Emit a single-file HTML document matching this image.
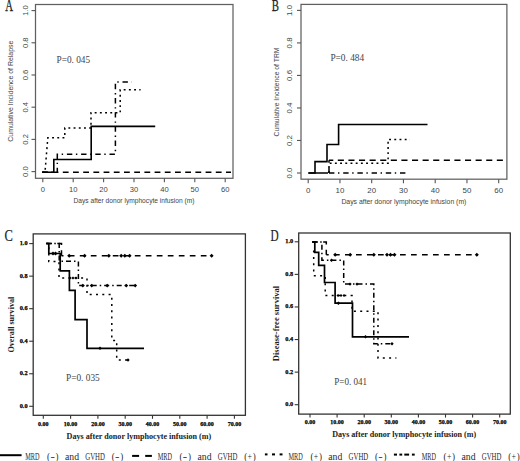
<!DOCTYPE html>
<html><head><meta charset="utf-8"><style>
html,body{margin:0;padding:0;background:#fff;}
svg{display:block;}
</style></head><body>
<svg width="520" height="461" viewBox="0 0 520 461">
<rect width="520" height="461" fill="#fff"/>
<rect x="35.5" y="4.5" width="197.5" height="173.8" fill="none" stroke="#606060" stroke-width="1.25"/>
<line x1="31.5" y1="171.6" x2="35.5" y2="171.6" stroke="#555" stroke-width="1.1"/>
<text x="25.5" y="171.6" font-size="7.6" font-family='"Liberation Sans", sans-serif' text-anchor="middle" font-weight="normal" fill="#444" transform="rotate(-90 25.5 171.6)" dominant-baseline="central">0.0</text>
<line x1="31.5" y1="139.39" x2="35.5" y2="139.39" stroke="#555" stroke-width="1.1"/>
<text x="25.5" y="139.39" font-size="7.6" font-family='"Liberation Sans", sans-serif' text-anchor="middle" font-weight="normal" fill="#444" transform="rotate(-90 25.5 139.39)" dominant-baseline="central">0.2</text>
<line x1="31.5" y1="107.19" x2="35.5" y2="107.19" stroke="#555" stroke-width="1.1"/>
<text x="25.5" y="107.19" font-size="7.6" font-family='"Liberation Sans", sans-serif' text-anchor="middle" font-weight="normal" fill="#444" transform="rotate(-90 25.5 107.19)" dominant-baseline="central">0.4</text>
<line x1="31.5" y1="74.99" x2="35.5" y2="74.99" stroke="#555" stroke-width="1.1"/>
<text x="25.5" y="74.99" font-size="7.6" font-family='"Liberation Sans", sans-serif' text-anchor="middle" font-weight="normal" fill="#444" transform="rotate(-90 25.5 74.99)" dominant-baseline="central">0.6</text>
<line x1="31.5" y1="42.79" x2="35.5" y2="42.79" stroke="#555" stroke-width="1.1"/>
<text x="25.5" y="42.79" font-size="7.6" font-family='"Liberation Sans", sans-serif' text-anchor="middle" font-weight="normal" fill="#444" transform="rotate(-90 25.5 42.79)" dominant-baseline="central">0.8</text>
<line x1="31.5" y1="10.59" x2="35.5" y2="10.59" stroke="#555" stroke-width="1.1"/>
<text x="25.5" y="10.59" font-size="7.6" font-family='"Liberation Sans", sans-serif' text-anchor="middle" font-weight="normal" fill="#444" transform="rotate(-90 25.5 10.59)" dominant-baseline="central">1.0</text>
<line x1="42.8" y1="178.3" x2="42.8" y2="182.3" stroke="#555" stroke-width="1.1"/>
<text x="42.8" y="189.5" font-size="7.6" font-family='"Liberation Sans", sans-serif' text-anchor="middle" font-weight="normal" fill="#444" dominant-baseline="central">0</text>
<line x1="73.19" y1="178.3" x2="73.19" y2="182.3" stroke="#555" stroke-width="1.1"/>
<text x="73.19" y="189.5" font-size="7.6" font-family='"Liberation Sans", sans-serif' text-anchor="middle" font-weight="normal" fill="#444" dominant-baseline="central">10</text>
<line x1="103.6" y1="178.3" x2="103.6" y2="182.3" stroke="#555" stroke-width="1.1"/>
<text x="103.6" y="189.5" font-size="7.6" font-family='"Liberation Sans", sans-serif' text-anchor="middle" font-weight="normal" fill="#444" dominant-baseline="central">20</text>
<line x1="134.0" y1="178.3" x2="134.0" y2="182.3" stroke="#555" stroke-width="1.1"/>
<text x="134.0" y="189.5" font-size="7.6" font-family='"Liberation Sans", sans-serif' text-anchor="middle" font-weight="normal" fill="#444" dominant-baseline="central">30</text>
<line x1="164.39" y1="178.3" x2="164.39" y2="182.3" stroke="#555" stroke-width="1.1"/>
<text x="164.39" y="189.5" font-size="7.6" font-family='"Liberation Sans", sans-serif' text-anchor="middle" font-weight="normal" fill="#444" dominant-baseline="central">40</text>
<line x1="194.8" y1="178.3" x2="194.8" y2="182.3" stroke="#555" stroke-width="1.1"/>
<text x="194.8" y="189.5" font-size="7.6" font-family='"Liberation Sans", sans-serif' text-anchor="middle" font-weight="normal" fill="#444" dominant-baseline="central">50</text>
<line x1="225.2" y1="178.3" x2="225.2" y2="182.3" stroke="#555" stroke-width="1.1"/>
<text x="225.2" y="189.5" font-size="7.6" font-family='"Liberation Sans", sans-serif' text-anchor="middle" font-weight="normal" fill="#444" dominant-baseline="central">60</text>
<text x="134.0" y="200.1" font-size="7.4" font-family='"Liberation Sans", sans-serif' text-anchor="middle" font-weight="normal" fill="#444" dominant-baseline="central" textLength="121" lengthAdjust="spacingAndGlyphs">Days after donor lymphocyte infusion (m)</text>
<text x="10.6" y="91.2" font-size="7.4" font-family='"Liberation Sans", sans-serif' text-anchor="middle" font-weight="normal" fill="#444" transform="rotate(-90 10.6 91.2)" dominant-baseline="central" textLength="101" lengthAdjust="spacingAndGlyphs">Cumulative Incidence of Relapse</text>
<text x="56.6" y="59.5" font-size="9.6" font-family='"Liberation Serif", serif' text-anchor="start" font-weight="normal" fill="#444" dominant-baseline="central" textLength="33.5" lengthAdjust="spacingAndGlyphs">P=0. 045</text>
<text x="5.2" y="11.1" font-size="16.8" font-family='"Liberation Serif", serif' fill="#222" stroke="#222" stroke-width="0.3" transform="translate(5.2 11.1) scale(0.64 1) translate(-5.2 -11.1)">A</text>
<path d="M42.2,172.2 H231" fill="none" stroke="#000" stroke-width="1.5" stroke-dasharray="5.8 4.4" stroke-dashoffset="10.0"/>
<path d="M42.2,172.2 H57.3 V154.3 H115.4 V82.1 H131.7" fill="none" stroke="#000" stroke-width="1.5" stroke-dasharray="5.4 3.6 1.4 3.8" stroke-dashoffset="0"/>
<path d="M42.2,172.2 H45 L47.8,137.8 H64.8 V128.1 H91 V112.8 H120.2 V89.8 H140.6" fill="none" stroke="#000" stroke-width="1.5" stroke-dasharray="1.9 3.3" stroke-dashoffset="0"/>
<path d="M42.2,172.2 H53.8 V159.5 H91.2 V126.4 H155.2" fill="none" stroke="#000" stroke-width="1.6"/>
<rect x="301" y="4.4" width="205.89" height="174.79" fill="none" stroke="#606060" stroke-width="1.25"/>
<line x1="297" y1="173.0" x2="301" y2="173.0" stroke="#555" stroke-width="1.1"/>
<text x="289.8" y="173.0" font-size="7.9" font-family='"Liberation Sans", sans-serif' text-anchor="middle" font-weight="normal" fill="#444" transform="rotate(-90 289.8 173.0)" dominant-baseline="central">0.0</text>
<line x1="297" y1="140.48" x2="301" y2="140.48" stroke="#555" stroke-width="1.1"/>
<text x="289.8" y="140.48" font-size="7.9" font-family='"Liberation Sans", sans-serif' text-anchor="middle" font-weight="normal" fill="#444" transform="rotate(-90 289.8 140.48)" dominant-baseline="central">0.2</text>
<line x1="297" y1="107.96" x2="301" y2="107.96" stroke="#555" stroke-width="1.1"/>
<text x="289.8" y="107.96" font-size="7.9" font-family='"Liberation Sans", sans-serif' text-anchor="middle" font-weight="normal" fill="#444" transform="rotate(-90 289.8 107.96)" dominant-baseline="central">0.4</text>
<line x1="297" y1="75.43" x2="301" y2="75.43" stroke="#555" stroke-width="1.1"/>
<text x="289.8" y="75.43" font-size="7.9" font-family='"Liberation Sans", sans-serif' text-anchor="middle" font-weight="normal" fill="#444" transform="rotate(-90 289.8 75.43)" dominant-baseline="central">0.6</text>
<line x1="297" y1="42.91" x2="301" y2="42.91" stroke="#555" stroke-width="1.1"/>
<text x="289.8" y="42.91" font-size="7.9" font-family='"Liberation Sans", sans-serif' text-anchor="middle" font-weight="normal" fill="#444" transform="rotate(-90 289.8 42.91)" dominant-baseline="central">0.8</text>
<line x1="297" y1="10.40" x2="301" y2="10.40" stroke="#555" stroke-width="1.1"/>
<text x="289.8" y="10.40" font-size="7.9" font-family='"Liberation Sans", sans-serif' text-anchor="middle" font-weight="normal" fill="#444" transform="rotate(-90 289.8 10.40)" dominant-baseline="central">1.0</text>
<line x1="308.2" y1="179.2" x2="308.2" y2="183.2" stroke="#555" stroke-width="1.1"/>
<text x="308.2" y="190.7" font-size="7.9" font-family='"Liberation Sans", sans-serif' text-anchor="middle" font-weight="normal" fill="#444" dominant-baseline="central">0</text>
<line x1="339.95" y1="179.2" x2="339.95" y2="183.2" stroke="#555" stroke-width="1.1"/>
<text x="339.95" y="190.7" font-size="7.9" font-family='"Liberation Sans", sans-serif' text-anchor="middle" font-weight="normal" fill="#444" dominant-baseline="central">10</text>
<line x1="371.7" y1="179.2" x2="371.7" y2="183.2" stroke="#555" stroke-width="1.1"/>
<text x="371.7" y="190.7" font-size="7.9" font-family='"Liberation Sans", sans-serif' text-anchor="middle" font-weight="normal" fill="#444" dominant-baseline="central">20</text>
<line x1="403.45" y1="179.2" x2="403.45" y2="183.2" stroke="#555" stroke-width="1.1"/>
<text x="403.45" y="190.7" font-size="7.9" font-family='"Liberation Sans", sans-serif' text-anchor="middle" font-weight="normal" fill="#444" dominant-baseline="central">30</text>
<line x1="435.2" y1="179.2" x2="435.2" y2="183.2" stroke="#555" stroke-width="1.1"/>
<text x="435.2" y="190.7" font-size="7.9" font-family='"Liberation Sans", sans-serif' text-anchor="middle" font-weight="normal" fill="#444" dominant-baseline="central">40</text>
<line x1="466.95" y1="179.2" x2="466.95" y2="183.2" stroke="#555" stroke-width="1.1"/>
<text x="466.95" y="190.7" font-size="7.9" font-family='"Liberation Sans", sans-serif' text-anchor="middle" font-weight="normal" fill="#444" dominant-baseline="central">50</text>
<line x1="498.7" y1="179.2" x2="498.7" y2="183.2" stroke="#555" stroke-width="1.1"/>
<text x="498.7" y="190.7" font-size="7.9" font-family='"Liberation Sans", sans-serif' text-anchor="middle" font-weight="normal" fill="#444" dominant-baseline="central">60</text>
<text x="403.9" y="201.5" font-size="7.4" font-family='"Liberation Sans", sans-serif' text-anchor="middle" font-weight="normal" fill="#444" dominant-baseline="central" textLength="125" lengthAdjust="spacingAndGlyphs">Days after donor lymphocyte infusion (m)</text>
<text x="276.3" y="92" font-size="7.4" font-family='"Liberation Sans", sans-serif' text-anchor="middle" font-weight="normal" fill="#444" transform="rotate(-90 276.3 92)" dominant-baseline="central" textLength="89" lengthAdjust="spacingAndGlyphs">Cumulative Incidence of TRM</text>
<text x="330.4" y="57.0" font-size="9.6" font-family='"Liberation Serif", serif' text-anchor="start" font-weight="normal" fill="#444" dominant-baseline="central" textLength="33.8" lengthAdjust="spacingAndGlyphs">P=0. 484</text>
<text x="271.8" y="11.1" font-size="16.8" font-family='"Liberation Serif", serif' fill="#222" stroke="#222" stroke-width="0.3" transform="translate(271.8 11.1) scale(0.64 1) translate(-271.8 -11.1)">B</text>
<path d="M329,173 V160.3" fill="none" stroke="#000" stroke-width="1.5" stroke-dasharray="5.8 4.4" stroke-dashoffset="0"/>
<path d="M329,160.3 H503" fill="none" stroke="#000" stroke-width="1.5" stroke-dasharray="6.1 4.5" stroke-dashoffset="1.8"/>
<path d="M329,173 H406" fill="none" stroke="#000" stroke-width="1.5" stroke-dasharray="5.4 3.6 1.4 3.8" stroke-dashoffset="0"/>
<path d="M308.4,173 H328" fill="none" stroke="#000" stroke-width="1.5"/>
<path d="M329,173 V163.3 H388.1 V139.5 H410" fill="none" stroke="#000" stroke-width="1.5" stroke-dasharray="1.9 3.3" stroke-dashoffset="0"/>
<path d="M308.4,173 H315 V161.6 H327 V144.5 H338.6 V124.5 H427.5" fill="none" stroke="#000" stroke-width="1.6"/>
<rect x="33.2" y="233.9" width="212.2" height="181.4" fill="none" stroke="#333" stroke-width="1.3"/>
<line x1="29.20" y1="406.3" x2="33.2" y2="406.3" stroke="#333" stroke-width="1.1"/>
<text x="23.6" y="405.3" font-size="6.3" font-family='"Liberation Serif", serif' text-anchor="middle" font-weight="bold" fill="#000" dominant-baseline="central" stroke="#000" stroke-width="0.25">0.0</text>
<line x1="29.20" y1="373.76" x2="33.2" y2="373.76" stroke="#333" stroke-width="1.1"/>
<text x="23.6" y="372.76" font-size="6.3" font-family='"Liberation Serif", serif' text-anchor="middle" font-weight="bold" fill="#000" dominant-baseline="central" stroke="#000" stroke-width="0.25">0.2</text>
<line x1="29.20" y1="341.22" x2="33.2" y2="341.22" stroke="#333" stroke-width="1.1"/>
<text x="23.6" y="340.22" font-size="6.3" font-family='"Liberation Serif", serif' text-anchor="middle" font-weight="bold" fill="#000" dominant-baseline="central" stroke="#000" stroke-width="0.25">0.4</text>
<line x1="29.20" y1="308.68" x2="33.2" y2="308.68" stroke="#333" stroke-width="1.1"/>
<text x="23.6" y="307.68" font-size="6.3" font-family='"Liberation Serif", serif' text-anchor="middle" font-weight="bold" fill="#000" dominant-baseline="central" stroke="#000" stroke-width="0.25">0.6</text>
<line x1="29.20" y1="276.14" x2="33.2" y2="276.14" stroke="#333" stroke-width="1.1"/>
<text x="23.6" y="275.14" font-size="6.3" font-family='"Liberation Serif", serif' text-anchor="middle" font-weight="bold" fill="#000" dominant-baseline="central" stroke="#000" stroke-width="0.25">0.8</text>
<line x1="29.20" y1="243.60" x2="33.2" y2="243.60" stroke="#333" stroke-width="1.1"/>
<text x="23.6" y="242.60" font-size="6.3" font-family='"Liberation Serif", serif' text-anchor="middle" font-weight="bold" fill="#000" dominant-baseline="central" stroke="#000" stroke-width="0.25">1.0</text>
<line x1="43.3" y1="415.3" x2="43.3" y2="418.8" stroke="#333" stroke-width="1.1"/>
<text x="43.3" y="424" font-size="6.0" font-family='"Liberation Serif", serif' text-anchor="middle" font-weight="bold" fill="#000" dominant-baseline="central" stroke="#000" stroke-width="0.25">0.00</text>
<line x1="70.6" y1="415.3" x2="70.6" y2="418.8" stroke="#333" stroke-width="1.1"/>
<text x="70.6" y="424" font-size="6.0" font-family='"Liberation Serif", serif' text-anchor="middle" font-weight="bold" fill="#000" dominant-baseline="central" stroke="#000" stroke-width="0.25">10.00</text>
<line x1="97.9" y1="415.3" x2="97.9" y2="418.8" stroke="#333" stroke-width="1.1"/>
<text x="97.9" y="424" font-size="6.0" font-family='"Liberation Serif", serif' text-anchor="middle" font-weight="bold" fill="#000" dominant-baseline="central" stroke="#000" stroke-width="0.25">20.00</text>
<line x1="125.2" y1="415.3" x2="125.2" y2="418.8" stroke="#333" stroke-width="1.1"/>
<text x="125.2" y="424" font-size="6.0" font-family='"Liberation Serif", serif' text-anchor="middle" font-weight="bold" fill="#000" dominant-baseline="central" stroke="#000" stroke-width="0.25">30.00</text>
<line x1="152.5" y1="415.3" x2="152.5" y2="418.8" stroke="#333" stroke-width="1.1"/>
<text x="152.5" y="424" font-size="6.0" font-family='"Liberation Serif", serif' text-anchor="middle" font-weight="bold" fill="#000" dominant-baseline="central" stroke="#000" stroke-width="0.25">40.00</text>
<line x1="179.8" y1="415.3" x2="179.8" y2="418.8" stroke="#333" stroke-width="1.1"/>
<text x="179.8" y="424" font-size="6.0" font-family='"Liberation Serif", serif' text-anchor="middle" font-weight="bold" fill="#000" dominant-baseline="central" stroke="#000" stroke-width="0.25">50.00</text>
<line x1="207.10" y1="415.3" x2="207.10" y2="418.8" stroke="#333" stroke-width="1.1"/>
<text x="207.10" y="424" font-size="6.0" font-family='"Liberation Serif", serif' text-anchor="middle" font-weight="bold" fill="#000" dominant-baseline="central" stroke="#000" stroke-width="0.25">60.00</text>
<line x1="234.39" y1="415.3" x2="234.39" y2="418.8" stroke="#333" stroke-width="1.1"/>
<text x="234.39" y="424" font-size="6.0" font-family='"Liberation Serif", serif' text-anchor="middle" font-weight="bold" fill="#000" dominant-baseline="central" stroke="#000" stroke-width="0.25">70.00</text>
<text x="138.9" y="436" font-size="8.2" font-family='"Liberation Serif", serif' text-anchor="middle" font-weight="bold" fill="#222" dominant-baseline="central" textLength="144.6" lengthAdjust="spacingAndGlyphs">Days after donor lymphocyte infusion (m)</text>
<text x="11.4" y="324.7" font-size="8.3" font-family='"Liberation Serif", serif' text-anchor="middle" font-weight="bold" fill="#222" transform="rotate(-90 11.4 324.7)" dominant-baseline="central" textLength="55.8" lengthAdjust="spacingAndGlyphs">Overall survival</text>
<text x="66.0" y="377.6" font-size="9.6" font-family='"Liberation Serif", serif' text-anchor="start" font-weight="normal" fill="#444" dominant-baseline="central" textLength="33.7" lengthAdjust="spacingAndGlyphs">P=0. 035</text>
<text x="4.6" y="241.5" font-size="17.4" font-family='"Liberation Serif", serif' fill="#222" stroke="#222" stroke-width="0.2" transform="translate(4.6 241.5) scale(0.72 1) translate(-4.6 -241.5)">C</text>
<path d="M46.3,243.5 H61.5 V255.8" fill="none" stroke="#000" stroke-width="1.5" stroke-dasharray="5.7 5.3" stroke-dashoffset="0"/>
<path d="M61.5,255.8 H212.3" fill="none" stroke="#000" stroke-width="1.5" stroke-dasharray="5.7 5.3" stroke-dashoffset="3.7"/>
<path d="M46.3,243.5 H59.2 V261.3 H78.4 V285.6 H136.2" fill="none" stroke="#000" stroke-width="1.5" stroke-dasharray="5.0 3.0 1.5 3.0" stroke-dashoffset="0"/>
<path d="M46.3,243.5 H48.8 V261.5 H59 V278 H87 V294.6 H111.8 V340.5 H116.7 V360 H131.3" fill="none" stroke="#000" stroke-width="1.5" stroke-dasharray="2.0 4.3" stroke-dashoffset="0"/>
<path d="M46.3,243.5 H48.8 V253.5 H60.2 V270.8 H69.4 V290.4 H75.1 V319.6 H87 V348.3 H144" fill="none" stroke="#000" stroke-width="1.7"/>
<path d="M67.2,255.8 L69.2,253.8 L71.2,255.8 L69.2,257.8 Z" fill="#000"/>
<path d="M82.6,255.8 L84.6,253.8 L86.6,255.8 L84.6,257.8 Z" fill="#000"/>
<path d="M106.8,255.8 L108.8,253.8 L110.8,255.8 L108.8,257.8 Z" fill="#000"/>
<path d="M119.2,255.8 L121.2,253.8 L123.2,255.8 L121.2,257.8 Z" fill="#000"/>
<path d="M122.8,255.8 L124.8,253.8 L126.8,255.8 L124.8,257.8 Z" fill="#000"/>
<path d="M127.6,255.8 L129.6,253.8 L131.6,255.8 L129.6,257.8 Z" fill="#000"/>
<path d="M209.6,255.8 L211.6,253.8 L213.6,255.8 L211.6,257.8 Z" fill="#000"/>
<path d="M80.89,285.6 L82.8,283.70 L84.7,285.6 L82.8,287.5 Z" fill="#000"/>
<path d="M89.8,285.6 L91.7,283.70 L93.60,285.6 L91.7,287.5 Z" fill="#000"/>
<path d="M105.3,285.6 L107.2,283.70 L109.10,285.6 L107.2,287.5 Z" fill="#000"/>
<path d="M124.39,285.6 L126.3,283.70 L128.2,285.6 L126.3,287.5 Z" fill="#000"/>
<path d="M133.29,285.6 L135.2,283.70 L137.1,285.6 L135.2,287.5 Z" fill="#000"/>
<path d="M98.3,348.3 L100,346.6 L101.7,348.3 L100,350.0 Z" fill="#000"/>
<path d="M51.1,253.5 L53,251.6 L54.9,253.5 L53,255.4 Z" fill="#000"/>
<path d="M53.6,253.5 L55.5,251.6 L57.4,253.5 L55.5,255.4 Z" fill="#000"/>
<path d="M68.4,278 L70,276.4 L71.6,278 L70,279.6 Z" fill="#000"/>
<path d="M71.4,278 L73,276.4 L74.6,278 L73,279.6 Z" fill="#000"/>
<path d="M74.4,278 L76,276.4 L77.6,278 L76,279.6 Z" fill="#000"/>
<path d="M126.3,360 L128,358.3 L129.7,360 L128,361.7 Z" fill="#000"/>
<rect x="298.7" y="233" width="211.60" height="181.10" fill="none" stroke="#333" stroke-width="1.3"/>
<line x1="294.7" y1="404.7" x2="298.7" y2="404.7" stroke="#333" stroke-width="1.1"/>
<text x="289.2" y="403.7" font-size="6.3" font-family='"Liberation Serif", serif' text-anchor="middle" font-weight="bold" fill="#000" dominant-baseline="central" stroke="#000" stroke-width="0.25">0.0</text>
<line x1="294.7" y1="372.12" x2="298.7" y2="372.12" stroke="#333" stroke-width="1.1"/>
<text x="289.2" y="371.12" font-size="6.3" font-family='"Liberation Serif", serif' text-anchor="middle" font-weight="bold" fill="#000" dominant-baseline="central" stroke="#000" stroke-width="0.25">0.2</text>
<line x1="294.7" y1="339.53" x2="298.7" y2="339.53" stroke="#333" stroke-width="1.1"/>
<text x="289.2" y="338.53" font-size="6.3" font-family='"Liberation Serif", serif' text-anchor="middle" font-weight="bold" fill="#000" dominant-baseline="central" stroke="#000" stroke-width="0.25">0.4</text>
<line x1="294.7" y1="306.96" x2="298.7" y2="306.96" stroke="#333" stroke-width="1.1"/>
<text x="289.2" y="305.96" font-size="6.3" font-family='"Liberation Serif", serif' text-anchor="middle" font-weight="bold" fill="#000" dominant-baseline="central" stroke="#000" stroke-width="0.25">0.6</text>
<line x1="294.7" y1="274.38" x2="298.7" y2="274.38" stroke="#333" stroke-width="1.1"/>
<text x="289.2" y="273.38" font-size="6.3" font-family='"Liberation Serif", serif' text-anchor="middle" font-weight="bold" fill="#000" dominant-baseline="central" stroke="#000" stroke-width="0.25">0.8</text>
<line x1="294.7" y1="241.79" x2="298.7" y2="241.79" stroke="#333" stroke-width="1.1"/>
<text x="289.2" y="240.79" font-size="6.3" font-family='"Liberation Serif", serif' text-anchor="middle" font-weight="bold" fill="#000" dominant-baseline="central" stroke="#000" stroke-width="0.25">1.0</text>
<line x1="310.0" y1="414.1" x2="310.0" y2="417.6" stroke="#333" stroke-width="1.1"/>
<text x="310.0" y="422" font-size="6.0" font-family='"Liberation Serif", serif' text-anchor="middle" font-weight="bold" fill="#000" dominant-baseline="central" stroke="#000" stroke-width="0.25">0.00</text>
<line x1="337.1" y1="414.1" x2="337.1" y2="417.6" stroke="#333" stroke-width="1.1"/>
<text x="337.1" y="422" font-size="6.0" font-family='"Liberation Serif", serif' text-anchor="middle" font-weight="bold" fill="#000" dominant-baseline="central" stroke="#000" stroke-width="0.25">10.00</text>
<line x1="364.2" y1="414.1" x2="364.2" y2="417.6" stroke="#333" stroke-width="1.1"/>
<text x="364.2" y="422" font-size="6.0" font-family='"Liberation Serif", serif' text-anchor="middle" font-weight="bold" fill="#000" dominant-baseline="central" stroke="#000" stroke-width="0.25">20.00</text>
<line x1="391.3" y1="414.1" x2="391.3" y2="417.6" stroke="#333" stroke-width="1.1"/>
<text x="391.3" y="422" font-size="6.0" font-family='"Liberation Serif", serif' text-anchor="middle" font-weight="bold" fill="#000" dominant-baseline="central" stroke="#000" stroke-width="0.25">30.00</text>
<line x1="418.4" y1="414.1" x2="418.4" y2="417.6" stroke="#333" stroke-width="1.1"/>
<text x="418.4" y="422" font-size="6.0" font-family='"Liberation Serif", serif' text-anchor="middle" font-weight="bold" fill="#000" dominant-baseline="central" stroke="#000" stroke-width="0.25">40.00</text>
<line x1="445.5" y1="414.1" x2="445.5" y2="417.6" stroke="#333" stroke-width="1.1"/>
<text x="445.5" y="422" font-size="6.0" font-family='"Liberation Serif", serif' text-anchor="middle" font-weight="bold" fill="#000" dominant-baseline="central" stroke="#000" stroke-width="0.25">50.00</text>
<line x1="472.6" y1="414.1" x2="472.6" y2="417.6" stroke="#333" stroke-width="1.1"/>
<text x="472.6" y="422" font-size="6.0" font-family='"Liberation Serif", serif' text-anchor="middle" font-weight="bold" fill="#000" dominant-baseline="central" stroke="#000" stroke-width="0.25">60.00</text>
<line x1="499.7" y1="414.1" x2="499.7" y2="417.6" stroke="#333" stroke-width="1.1"/>
<text x="499.7" y="422" font-size="6.0" font-family='"Liberation Serif", serif' text-anchor="middle" font-weight="bold" fill="#000" dominant-baseline="central" stroke="#000" stroke-width="0.25">70.00</text>
<text x="404.2" y="434.6" font-size="8.2" font-family='"Liberation Serif", serif' text-anchor="middle" font-weight="bold" fill="#222" dominant-baseline="central" textLength="143.9" lengthAdjust="spacingAndGlyphs">Days after donor lymphocyte infusion (m)</text>
<text x="276.2" y="323.5" font-size="8.3" font-family='"Liberation Serif", serif' text-anchor="middle" font-weight="bold" fill="#222" transform="rotate(-90 276.2 323.5)" dominant-baseline="central" textLength="75.4" lengthAdjust="spacingAndGlyphs">Disease-free survival</text>
<text x="334.3" y="381.6" font-size="9.6" font-family='"Liberation Serif", serif' text-anchor="start" font-weight="normal" fill="#444" dominant-baseline="central" textLength="32.7" lengthAdjust="spacingAndGlyphs">P=0. 041</text>
<text x="270.6" y="241.3" font-size="16.6" font-family='"Liberation Serif", serif' fill="#222" stroke="#222" stroke-width="0.2" transform="translate(270.6 241.3) scale(0.68 1) translate(-270.6 -241.3)">D</text>
<path d="M312.2,241.9 H326.3 V254.7" fill="none" stroke="#000" stroke-width="1.5" stroke-dasharray="5.7 5.3" stroke-dashoffset="0"/>
<path d="M326.3,254.7 H478" fill="none" stroke="#000" stroke-width="1.5" stroke-dasharray="5.7 5.3" stroke-dashoffset="3.3"/>
<path d="M312.2,241.9 H321.9 V260.2 H343.7 V284.1 H373.8 V343.8 H392.7" fill="none" stroke="#000" stroke-width="1.5" stroke-dasharray="5.0 3.0 1.5 3.0" stroke-dashoffset="0"/>
<path d="M313.7,250.6 V275.7 H325.2 V295.6 H352 V311.2 H378 V357.9 H396.4" fill="none" stroke="#000" stroke-width="1.5" stroke-dasharray="2.0 4.3" stroke-dashoffset="0"/>
<path d="M312.2,241.9 H314.8 V252.3 H318.7 V265.3 H324.5 V282.5 H335.1 V303.2 H352.5 V336.8 H409" fill="none" stroke="#000" stroke-width="1.7"/>
<path d="M333.2,254.7 L335.2,252.7 L337.2,254.7 L335.2,256.7 Z" fill="#000"/>
<path d="M348.2,254.7 L350.2,252.7 L352.2,254.7 L350.2,256.7 Z" fill="#000"/>
<path d="M371.8,254.7 L373.8,252.7 L375.8,254.7 L373.8,256.7 Z" fill="#000"/>
<path d="M385.0,254.7 L387,252.7 L389.0,254.7 L387,256.7 Z" fill="#000"/>
<path d="M388.5,254.7 L390.5,252.7 L392.5,254.7 L390.5,256.7 Z" fill="#000"/>
<path d="M392.5,254.7 L394.5,252.7 L396.5,254.7 L394.5,256.7 Z" fill="#000"/>
<path d="M474.8,254.7 L476.8,252.7 L478.8,254.7 L476.8,256.7 Z" fill="#000"/>
<path d="M329.8,260.2 L331.5,258.5 L333.2,260.2 L331.5,261.9 Z" fill="#000"/>
<path d="M348.3,284.1 L350,282.40 L351.7,284.1 L350,285.8 Z" fill="#000"/>
<path d="M355.3,284.1 L357,282.40 L358.7,284.1 L357,285.8 Z" fill="#000"/>
<path d="M363.8,336.8 L365.5,335.1 L367.2,336.8 L365.5,338.5 Z" fill="#000"/>
<path d="M390.3,343.8 L392,342.1 L393.7,343.8 L392,345.5 Z" fill="#000"/>
<path d="M336.59,303.2 L338.4,301.4 L340.2,303.2 L338.4,305.0 Z" fill="#000"/>
<path d="M336.5,295.6 L338,294.1 L339.5,295.6 L338,297.1 Z" fill="#000"/>
<path d="M339.5,295.6 L341,294.1 L342.5,295.6 L341,297.1 Z" fill="#000"/>
<path d="M342.5,295.6 L344,294.1 L345.5,295.6 L344,297.1 Z" fill="#000"/>
<line x1="0" y1="455.2" x2="21.6" y2="455.2" stroke="#000" stroke-width="2.0"/>
<line x1="132.1" y1="455.9" x2="139.1" y2="455.9" stroke="#000" stroke-width="2.0"/>
<line x1="145.2" y1="455.9" x2="151.9" y2="455.9" stroke="#000" stroke-width="2.0"/>
<line x1="264.9" y1="454.4" x2="267.5" y2="454.4" stroke="#000" stroke-width="2.0"/>
<line x1="272" y1="454.4" x2="275" y2="454.4" stroke="#000" stroke-width="2.0"/>
<line x1="279.6" y1="454.4" x2="282.5" y2="454.4" stroke="#000" stroke-width="2.0"/>
<line x1="393.9" y1="454.6" x2="397" y2="454.6" stroke="#000" stroke-width="2.0"/>
<line x1="399.4" y1="454.6" x2="402.2" y2="454.6" stroke="#000" stroke-width="2.0"/>
<line x1="404.3" y1="454.6" x2="409.1" y2="454.6" stroke="#000" stroke-width="2.0"/>
<line x1="411.9" y1="454.6" x2="414.7" y2="454.6" stroke="#000" stroke-width="2.0"/>
<text x="25.2" y="459.7" font-size="9.4" font-family='"Liberation Serif", serif' fill="#2a2a2a" textLength="14.2" lengthAdjust="spacingAndGlyphs">MRD</text>
<text x="47.09" y="459.7" font-size="9.4" font-family='"Liberation Serif", serif' fill="#2a2a2a" textLength="3.0" lengthAdjust="spacingAndGlyphs">(</text>
<text x="50.4" y="459.7" font-size="9.4" font-family='"Liberation Serif", serif' fill="#2a2a2a" textLength="4.4" lengthAdjust="spacingAndGlyphs">-</text>
<text x="55.59" y="459.7" font-size="9.4" font-family='"Liberation Serif", serif' fill="#2a2a2a" textLength="3.0" lengthAdjust="spacingAndGlyphs">)</text>
<text x="65.0" y="459.7" font-size="9.4" font-family='"Liberation Serif", serif' fill="#2a2a2a" textLength="14.0" lengthAdjust="spacingAndGlyphs">and</text>
<text x="85.3" y="459.7" font-size="9.4" font-family='"Liberation Serif", serif' fill="#2a2a2a" textLength="19.6" lengthAdjust="spacingAndGlyphs">GVHD</text>
<text x="111.7" y="459.7" font-size="9.4" font-family='"Liberation Serif", serif' fill="#2a2a2a" textLength="3.0" lengthAdjust="spacingAndGlyphs">(</text>
<text x="115.0" y="459.7" font-size="9.4" font-family='"Liberation Serif", serif' fill="#2a2a2a" textLength="4.4" lengthAdjust="spacingAndGlyphs">-</text>
<text x="120.2" y="459.7" font-size="9.4" font-family='"Liberation Serif", serif' fill="#2a2a2a" textLength="3.0" lengthAdjust="spacingAndGlyphs">)</text>
<text x="157.7" y="459.7" font-size="9.4" font-family='"Liberation Serif", serif' fill="#2a2a2a" textLength="14.2" lengthAdjust="spacingAndGlyphs">MRD</text>
<text x="179.6" y="459.7" font-size="9.4" font-family='"Liberation Serif", serif' fill="#2a2a2a" textLength="3.0" lengthAdjust="spacingAndGlyphs">(</text>
<text x="182.89" y="459.7" font-size="9.4" font-family='"Liberation Serif", serif' fill="#2a2a2a" textLength="4.4" lengthAdjust="spacingAndGlyphs">-</text>
<text x="188.1" y="459.7" font-size="9.4" font-family='"Liberation Serif", serif' fill="#2a2a2a" textLength="3.0" lengthAdjust="spacingAndGlyphs">)</text>
<text x="197.5" y="459.7" font-size="9.4" font-family='"Liberation Serif", serif' fill="#2a2a2a" textLength="14.0" lengthAdjust="spacingAndGlyphs">and</text>
<text x="217.79" y="459.7" font-size="9.4" font-family='"Liberation Serif", serif' fill="#2a2a2a" textLength="19.6" lengthAdjust="spacingAndGlyphs">GVHD</text>
<text x="244.2" y="459.7" font-size="9.4" font-family='"Liberation Serif", serif' fill="#2a2a2a" textLength="3.0" lengthAdjust="spacingAndGlyphs">(</text>
<text x="247.5" y="459.7" font-size="9.4" font-family='"Liberation Serif", serif' fill="#2a2a2a" textLength="4.4" lengthAdjust="spacingAndGlyphs">+</text>
<text x="252.7" y="459.7" font-size="9.4" font-family='"Liberation Serif", serif' fill="#2a2a2a" textLength="3.0" lengthAdjust="spacingAndGlyphs">)</text>
<text x="288.5" y="459.7" font-size="9.4" font-family='"Liberation Serif", serif' fill="#2a2a2a" textLength="14.2" lengthAdjust="spacingAndGlyphs">MRD</text>
<text x="310.4" y="459.7" font-size="9.4" font-family='"Liberation Serif", serif' fill="#2a2a2a" textLength="3.0" lengthAdjust="spacingAndGlyphs">(</text>
<text x="313.7" y="459.7" font-size="9.4" font-family='"Liberation Serif", serif' fill="#2a2a2a" textLength="4.4" lengthAdjust="spacingAndGlyphs">+</text>
<text x="318.9" y="459.7" font-size="9.4" font-family='"Liberation Serif", serif' fill="#2a2a2a" textLength="3.0" lengthAdjust="spacingAndGlyphs">)</text>
<text x="328.3" y="459.7" font-size="9.4" font-family='"Liberation Serif", serif' fill="#2a2a2a" textLength="14.0" lengthAdjust="spacingAndGlyphs">and</text>
<text x="348.6" y="459.7" font-size="9.4" font-family='"Liberation Serif", serif' fill="#2a2a2a" textLength="19.6" lengthAdjust="spacingAndGlyphs">GVHD</text>
<text x="375.0" y="459.7" font-size="9.4" font-family='"Liberation Serif", serif' fill="#2a2a2a" textLength="3.0" lengthAdjust="spacingAndGlyphs">(</text>
<text x="378.3" y="459.7" font-size="9.4" font-family='"Liberation Serif", serif' fill="#2a2a2a" textLength="4.4" lengthAdjust="spacingAndGlyphs">-</text>
<text x="383.5" y="459.7" font-size="9.4" font-family='"Liberation Serif", serif' fill="#2a2a2a" textLength="3.0" lengthAdjust="spacingAndGlyphs">)</text>
<text x="421.7" y="459.7" font-size="9.4" font-family='"Liberation Serif", serif' fill="#2a2a2a" textLength="14.2" lengthAdjust="spacingAndGlyphs">MRD</text>
<text x="443.59" y="459.7" font-size="9.4" font-family='"Liberation Serif", serif' fill="#2a2a2a" textLength="3.0" lengthAdjust="spacingAndGlyphs">(</text>
<text x="446.9" y="459.7" font-size="9.4" font-family='"Liberation Serif", serif' fill="#2a2a2a" textLength="4.4" lengthAdjust="spacingAndGlyphs">+</text>
<text x="452.09" y="459.7" font-size="9.4" font-family='"Liberation Serif", serif' fill="#2a2a2a" textLength="3.0" lengthAdjust="spacingAndGlyphs">)</text>
<text x="461.5" y="459.7" font-size="9.4" font-family='"Liberation Serif", serif' fill="#2a2a2a" textLength="14.0" lengthAdjust="spacingAndGlyphs">and</text>
<text x="481.8" y="459.7" font-size="9.4" font-family='"Liberation Serif", serif' fill="#2a2a2a" textLength="19.6" lengthAdjust="spacingAndGlyphs">GVHD</text>
<text x="508.2" y="459.7" font-size="9.4" font-family='"Liberation Serif", serif' fill="#2a2a2a" textLength="3.0" lengthAdjust="spacingAndGlyphs">(</text>
<text x="511.5" y="459.7" font-size="9.4" font-family='"Liberation Serif", serif' fill="#2a2a2a" textLength="4.4" lengthAdjust="spacingAndGlyphs">+</text>
<text x="516.7" y="459.7" font-size="9.4" font-family='"Liberation Serif", serif' fill="#2a2a2a" textLength="3.0" lengthAdjust="spacingAndGlyphs">)</text>
</svg>
</body></html>
